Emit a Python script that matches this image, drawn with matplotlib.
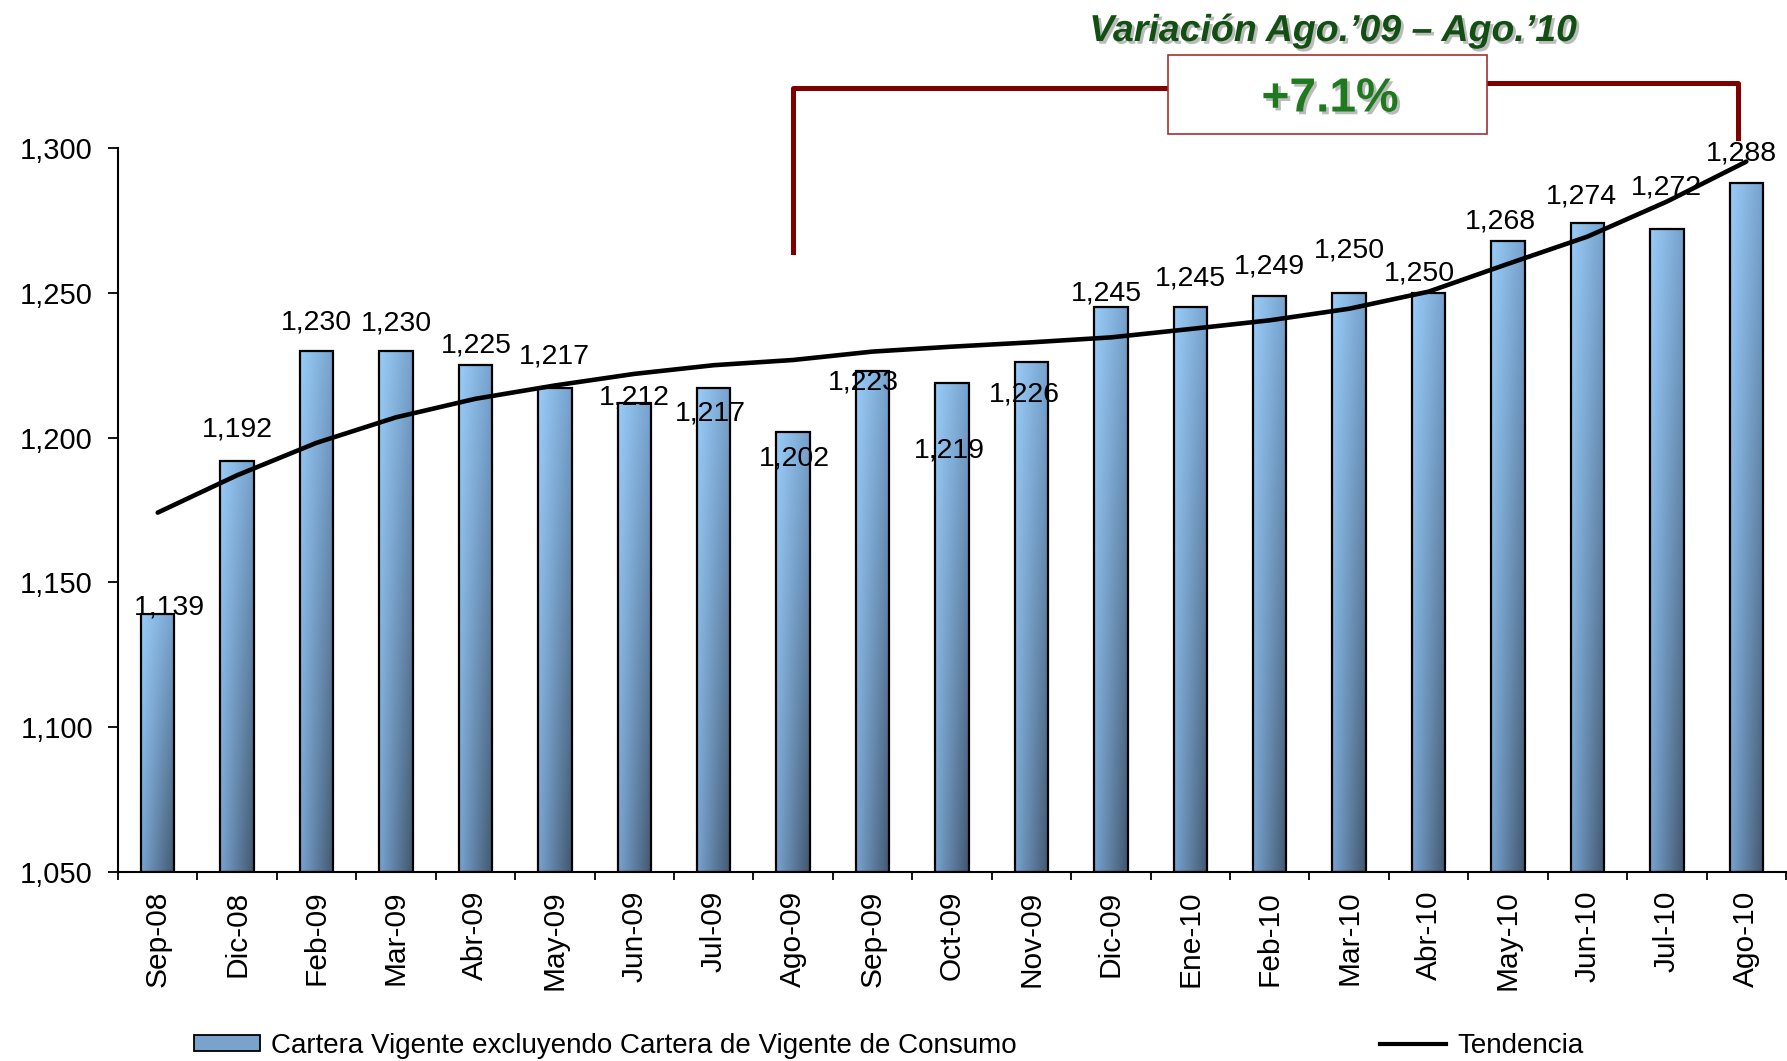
import numpy as np
import matplotlib
matplotlib.use("Agg")
import matplotlib.pyplot as plt
import matplotlib.patheffects as pe
from matplotlib.patches import Rectangle, Patch
from matplotlib.lines import Line2D

# data
months = ["Sep-08", "Dic-08", "Feb-09", "Mar-09", "Abr-09", "May-09", "Jun-09",
          "Jul-09", "Ago-09", "Sep-09", "Oct-09", "Nov-09", "Dic-09", "Ene-10",
          "Feb-10", "Mar-10", "Abr-10", "May-10", "Jun-10", "Jul-10", "Ago-10"]
cartera = [1139, 1192, 1230, 1230, 1225, 1217, 1212, 1217, 1202, 1223, 1219,
           1226, 1245, 1245, 1249, 1250, 1250, 1268, 1274, 1272, 1288]
tendencia = [1174.1, 1187.0, 1198.2, 1207.0, 1213.4, 1218.0, 1222.0, 1225.0,
             1226.8, 1229.7, 1231.4, 1232.9, 1234.6, 1237.5, 1240.5, 1244.5,
             1250.4, 1260.0, 1269.4, 1281.5, 1295.3]
y_ticks = [1050, 1100, 1150, 1200, 1250, 1300]

# where each value label sits relative to the bar top (pixels)
label_dx = [12, 0, 0, 0, 1, 0, 0, -3, 1, -9, -3, -7, -4, 0, 0, 0, -9, -8, -6, 0, -5]
label_dy = [7, 31, 28, 27, 20, 32, 5, -25, -27, -12, -68, -32, 14, 29, 29, 42, 19, 19, 27, 42, 29]

plt.rcParams["font.family"] = ["Liberation Sans", "DejaVu Sans"]
narrow = ["Liberation Sans Narrow", "Liberation Sans", "DejaVu Sans"]

W, H = 1787, 1061
fig = plt.figure(figsize=(W / 100, H / 100), dpi=100)
ax = fig.add_axes([118 / W, 1 - 872 / H, (1786 - 118) / W, (872 - 148) / H])

x = np.arange(len(months))
y0 = y_ticks[0]
heights = np.array(cartera) - y0
bars = ax.bar(x, heights, bottom=y0, width=0.42, facecolor="none",
              edgecolor="black", linewidth=1.6, zorder=2)

# diagonal gradient: light blue top-left, slate bottom-right
tl = np.array([0.60, 0.80, 0.97])
tr = np.array([0.46, 0.63, 0.80])
bl = np.array([0.47, 0.64, 0.82])
br = np.array([0.26, 0.34, 0.43])
u, v = np.meshgrid(np.linspace(0, 1, 64), np.linspace(0, 1, 64))
u, v = u[..., None], v[..., None]
grad = (1 - u) * (1 - v) * tl + u * (1 - v) * tr + (1 - u) * v * bl + u * v * br

for b in bars:
    bx, by = b.get_x(), b.get_y()
    im = ax.imshow(grad, extent=[bx, bx + b.get_width(), by, by + b.get_height()],
                   aspect="auto", interpolation="bilinear", zorder=1)
    im.set_clip_path(b)

ax.plot(x, tendencia, color="black", linewidth=3.3, zorder=3, clip_on=False,
        solid_capstyle="round")

for xi, val, dx, dy in zip(x, cartera, label_dx, label_dy):
    ax.annotate(f"{val:,}", (xi, val), xytext=(dx * 0.72, dy * 0.72),
                textcoords="offset points", ha="center", va="center",
                fontsize=20.5, zorder=4, annotation_clip=False)

ax.set_xlim(-0.5, len(months) - 0.5)
ax.set_ylim(y0, y_ticks[-1])

ax.set_xticks(x)
ax.set_xticklabels(months, rotation=90, fontsize=21.5)
ax.set_xticks(np.arange(-0.5, len(months), 1), minor=True)
ax.tick_params(axis="x", which="major", length=0, pad=13.5)
ax.tick_params(axis="x", which="minor", length=6, width=1.3, direction="out")
ax.set_yticks(y_ticks)
ax.set_yticklabels([f"{t:,}" for t in y_ticks], fontsize=21)
ax.tick_params(axis="y", length=7, width=1.3, pad=11)

for s in ["top", "right"]:
    ax.spines[s].set_visible(False)
for s in ["left", "bottom"]:
    ax.spines[s].set_linewidth(1.5)

# bracket Ago-09 -> Ago-10
red = "#800000"
ax.plot([8, 8, 12.72], [1264.1, 1320.7, 1320.7], color=red, linewidth=3.6,
        clip_on=False, zorder=3)
ax.plot([16.73, 19.89, 19.89], [1322.4, 1322.4, 1303.5], color=red,
        linewidth=3.6, clip_on=False, zorder=3)
ax.add_patch(Rectangle((12.72, 1304.8), 16.73 - 12.72, 27.3, facecolor="white",
                       edgecolor="#a33030", linewidth=1.2, clip_on=False, zorder=3))

shadow = [pe.SimplePatchShadow(offset=(2, -2), shadow_rgbFace="#aaaaaa", alpha=0.8),
          pe.Normal()]
fig.text(1333 / W, 1 - 31 / H, "Variación Ago.’09 – Ago.’10", ha="center",
         va="center", fontsize=27, fontweight="bold", fontstyle="italic",
         color="#124f12", family=narrow, path_effects=shadow)
fig.text(1330 / W, 1 - 99 / H, "+7.1%", ha="center", va="center", fontsize=34.5,
         fontweight="bold", color="#1f7a1f", family=narrow, path_effects=shadow)

handles = [Patch(facecolor="#7aa3cc", edgecolor="black", linewidth=1.3),
           Line2D([], [], color="black", linewidth=3)]
fig.legend(handles, ["Cartera Vigente excluyendo Cartera de Vigente de Consumo",
                     "Tendencia"],
           loc="center left", bbox_to_anchor=(194 / W, 1 - 1046 / H), ncol=2,
           frameon=False, fontsize=20, handlelength=2.37, handleheight=0.54,
           handletextpad=0.4, columnspacing=13.1, borderpad=0, borderaxespad=0)

fig.savefig("out.png", dpi=100)
